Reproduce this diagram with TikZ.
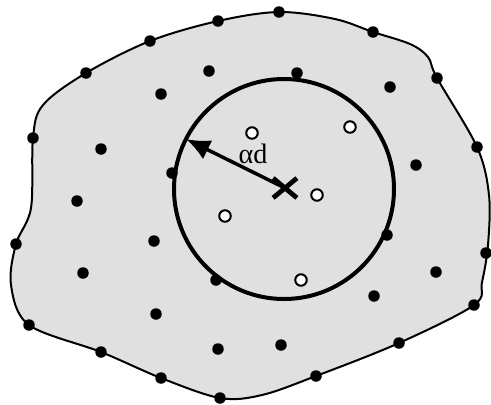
\documentclass[tikz,border=0pt]{standalone}
\usepackage{fontspec}
\setmainfont{Liberation Serif}
\usetikzlibrary{arrows.meta,shapes.misc}

\begin{document}
\begin{tikzpicture}[x=0.2mm,y=-0.2mm,>=Latex,
  dot/.style={circle,fill=black,inner sep=0pt,minimum size=2.3mm},
  hollow/.style={circle,draw=black,fill=white,line width=0.4mm,inner sep=0pt,minimum size=2.3mm},
  ring/.style={circle,draw,line width=0.8mm,inner sep=0pt,outer sep=0pt,minimum size=44mm},
  centre/.style={cross out,draw,line width=0.95mm,inner sep=0pt,minimum width=3.8mm,minimum height=3mm}]
\useasboundingbox (0,0) rectangle (491,404);
% region outline
\def\rim{(33,138) (43,105) (86,73) (150,41) (218,21) (279,12) (335,19) (373,32) (410,44) (428,57) (437,78) (477,147) (489,195) (488,245) (482,282) (474,305) (399,343) (316,376) (262,395) (220,398) (161,378) (101,352) (29,325) (11,285) (16,244) (31,208)}
\draw[line width=0.4mm,fill=black!12] plot[smooth cycle,tension=0.55] coordinates {\rim};
\node[ring] (zone) at (284,189) {};
\node[centre] (ctr) at (285,188) {};
\draw[line width=0.7mm,-{Latex[length=4.8mm,width=4.2mm]}] (ctr.center) -- (zone.153);
\node[font=\fontsize{16}{18}\selectfont] (lab) at (253,154) {αd};
% boundary points
\foreach \p [count=\i] in {(33,138),(86,73),(150,41),(218,21),(279,12),(373,32),(437,78),(477,147),(486,253),(474,305),(399,343),(316,376),(220,398),(161,378),(101,352),(29,325),(16,244)}
  \node[dot] (b\i) at \p {};
% interior points
\foreach \p [count=\i] in {(209,71),(161,94),(101,149),(77,201),(154,241),(83,273),(156,314),(218,349),(281,345),(374,296),(436,272),(416,165),(390,87),(297,73),(172,173),(216,280),(387,235)}
  \node[dot] (p\i) at \p {};
\foreach \p [count=\i] in {(252,133),(350,127),(317,195),(225,216),(301,280)}
  \node[hollow] (q\i) at \p {};
\end{tikzpicture}
\end{document}
